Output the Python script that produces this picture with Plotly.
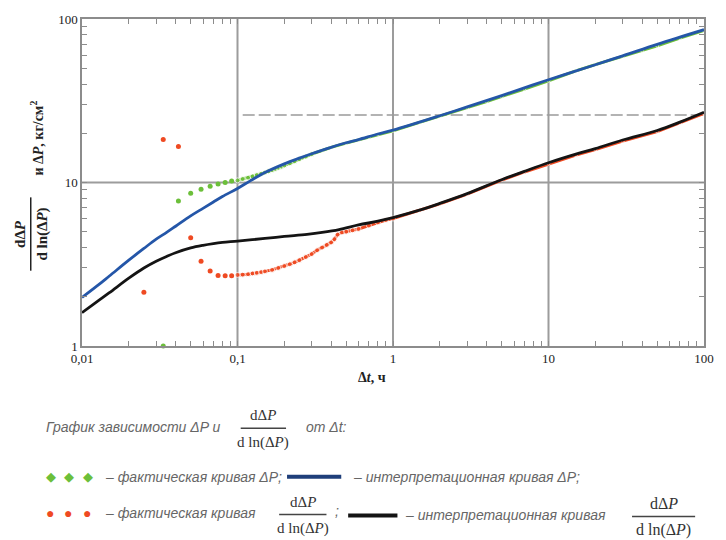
import math
import plotly.graph_objects as go

# ---- data -------------------------------------------------------------
# actual ΔP (green dots)
green_t = [0.0333, 0.0417, 0.05, 0.0583, 0.0667, 0.075, 0.0833, 0.0917,
           0.1, 0.108, 0.117, 0.125, 0.133, 0.142, 0.15, 0.158, 0.167, 0.175,
           0.183, 0.192, 0.2, 0.217, 0.233, 0.25, 0.275, 0.3, 0.35, 0.4, 0.5,
           0.6, 0.7, 0.8, 1, 1.5, 2, 3, 4, 5, 7, 10, 15, 20, 30, 40, 50, 70, 100]
green_v = [1.0, 7.7, 8.6, 9.1, 9.5, 9.8, 10.0, 10.2,
           10.3, 10.5, 10.7, 10.9, 11.1, 11.3, 11.5, 11.7, 11.9, 12.1,
           12.3, 12.5, 12.7, 13.1, 13.5, 13.9, 14.4, 14.9, 15.7, 16.4, 17.4,
           18.2, 19.0, 19.7, 20.7, 23.4, 25.4, 28.7, 31.3, 33.5, 37.3, 41.9,
           48.2, 52.6, 59.0, 64.0, 68.5, 76.5, 85.0]
green_sparse = 8  # first points are isolated dots

# interpreted ΔP (blue line)
blue_t = [0.01, 0.0125, 0.015, 0.02, 0.025, 0.03, 0.035, 0.04, 0.05, 0.06,
          0.07, 0.08, 0.1, 0.12, 0.15, 0.2, 0.25, 0.3, 0.4, 0.5, 0.6, 0.8,
          1, 2, 3, 5, 10, 20, 30, 50, 100]
blue_v = [1.98, 2.33, 2.68, 3.35, 3.95, 4.5, 4.95, 5.4, 6.25, 6.95,
          7.6, 8.2, 9.2, 10.2, 11.5, 13.0, 14.1, 15.0, 16.4, 17.5, 18.3, 19.8,
          20.9, 25.6, 29.0, 34.0, 42.5, 52.5, 59.5, 70.0, 86.0]

# actual derivative (orange dots)
orange_t = [0.025, 0.0333, 0.0417, 0.05, 0.0583, 0.0667, 0.075, 0.0833, 0.0917,
            0.1, 0.108, 0.117, 0.125, 0.133, 0.142, 0.15, 0.167, 0.183, 0.2,
            0.217, 0.233, 0.25, 0.275, 0.3, 0.325, 0.35, 0.375, 0.4, 0.42,
            0.44, 0.47, 0.5, 0.55, 0.6, 0.7, 0.8, 0.9, 1, 1.5, 2, 3, 5, 7,
            10, 15, 20, 30, 50, 70, 100]
orange_v = [2.13, 18.3, 16.6, 4.6, 3.3, 2.88, 2.7, 2.69, 2.69,
            2.72, 2.73, 2.75, 2.78, 2.8, 2.83, 2.86, 2.92, 3.0, 3.08,
            3.16, 3.25, 3.35, 3.5, 3.65, 3.85, 4.0, 4.15, 4.3, 4.5,
            4.8, 4.95, 5.0, 5.1, 5.2, 5.45, 5.7, 5.9, 6.02, 6.75, 7.4, 8.5,
            10.35, 11.6, 13.0, 14.7, 15.9, 17.9, 20.5, 23.1, 26.5]
orange_sparse = 9

# interpreted derivative (black line)
black_t = [0.01, 0.0125, 0.015, 0.02, 0.025, 0.03, 0.035, 0.04, 0.05, 0.06,
           0.07, 0.08, 0.1, 0.15, 0.2, 0.28, 0.35, 0.45, 0.6, 0.8, 1, 1.5, 2,
           3, 5, 7, 10, 15, 20, 30, 50, 70, 100]
black_v = [1.6, 1.87, 2.12, 2.6, 3.0, 3.3, 3.53, 3.72, 3.98, 4.13,
           4.23, 4.3, 4.38, 4.55, 4.68, 4.82, 4.95, 5.15, 5.5, 5.8, 6.1, 6.8,
           7.45, 8.55, 10.4, 11.7, 13.2, 14.9, 16.1, 18.2, 20.8, 23.4, 26.9]

# horizontal reference level (dashed)
ref_t = [0.108, 100]
ref_v = [25.9, 25.9]

x_decades = [0.01, 0.1, 1, 10, 100]
x_labels = ["0,01", "0,1", "1", "10", "100"]
y_decades = [1, 10, 100]
y_labels = ["1", "10", "100"]
X_RANGE = [-2, 2]
Y_RANGE = [0, 2]

# ---- colours / geometry ----------------------------------------------
GREEN = "#6cbf3a"
BLUE = "#2456a8"
ORANGE = "#ef4a22"
BLACK = "#141414"
GRID = "#9c9c9c"
FRAME = "#8c8c8c"
W, H = 726, 540
L, R, T, B = 82, 713, 16, 346

def px(x):
    return (x - L) / (R - L)

def py(y):
    return (B - y) / (B - T)

def tick_set(decades, labels):
    """All 1..9 multiples inside the range; only decades carry a label."""
    vals, text = [], []
    for d, lab in zip(decades, labels):
        vals.append(d)
        text.append(lab)
        if d != decades[-1]:
            for m in range(2, 10):
                vals.append(m * d)
                text.append("")
    return vals, text

x_tickvals, x_ticktext = tick_set(x_decades, x_labels)
y_tickvals, y_ticktext = tick_set(y_decades, y_labels)

# markers shrink where the dots run underneath the fitted curves
green_sizes = [5 if t <= 0.3 else 3 for t in green_t[green_sparse:]]
orange_sizes = [5 if t <= 1 else 3 for t in orange_t[orange_sparse:]]

fig = go.Figure()

fig.add_trace(go.Scatter(x=ref_t, y=ref_v, mode="lines",
                         line=dict(color="#9a9a9a", width=1.5, dash="12px,4px")))
fig.add_trace(go.Scatter(x=green_t[:green_sparse], y=green_v[:green_sparse],
                         mode="markers", cliponaxis=False,
                         marker=dict(color=GREEN, size=5)))
fig.add_trace(go.Scatter(x=green_t[green_sparse:], y=green_v[green_sparse:],
                         mode="lines+markers",
                         line=dict(color=GREEN, width=3),
                         marker=dict(color=GREEN, size=green_sizes)))
fig.add_trace(go.Scatter(x=blue_t, y=blue_v, mode="lines", line_shape="spline",
                         line=dict(color=BLUE, width=2.8)))
fig.add_trace(go.Scatter(x=orange_t[:orange_sparse], y=orange_v[:orange_sparse],
                         mode="markers", marker=dict(color=ORANGE, size=5)))
fig.add_trace(go.Scatter(x=orange_t[orange_sparse:], y=orange_v[orange_sparse:],
                         mode="lines+markers",
                         line=dict(color=ORANGE, width=3),
                         marker=dict(color=ORANGE, size=orange_sizes)))
fig.add_trace(go.Scatter(x=black_t, y=black_v, mode="lines", line_shape="spline",
                         line=dict(color=BLACK, width=2.8)))

axis_common = dict(
    type="log", showline=True, linecolor=FRAME, linewidth=1.5,
    mirror="allticks", ticks="inside", ticklen=5, tickcolor=FRAME,
    tickwidth=1, showgrid=False, zeroline=False, tickmode="array",
    tickfont=dict(family="Liberation Serif, serif", size=13, color="#222"),
)

fig.update_layout(
    width=W, height=H,
    margin=dict(l=L, r=W - R, t=T, b=H - B),
    paper_bgcolor="white", plot_bgcolor="white",
    showlegend=False,
    xaxis=dict(axis_common, range=X_RANGE, tickvals=x_tickvals,
               ticktext=x_ticktext),
    yaxis=dict(axis_common, range=Y_RANGE, tickvals=y_tickvals,
               ticktext=y_ticktext),
)

SERIF = "Liberation Serif, serif"
SANS = "Liberation Sans, Arial, sans-serif"
ann = []
shapes = []

# decade grid lines
for d in x_decades[1:-1]:
    xp = (math.log10(d) - X_RANGE[0]) / (X_RANGE[1] - X_RANGE[0])
    shapes.append(dict(type="line", xref="paper", yref="paper", layer="below",
                       x0=xp, x1=xp, y0=0, y1=1,
                       line=dict(color=GRID, width=2)))
for d in y_decades[1:-1]:
    yp = (math.log10(d) - Y_RANGE[0]) / (Y_RANGE[1] - Y_RANGE[0])
    shapes.append(dict(type="line", xref="paper", yref="paper", layer="below",
                       x0=0, x1=1, y0=yp, y1=yp,
                       line=dict(color=GRID, width=2)))

def text(x, y, s, size=14, family=SANS, color="#666", anchor="left",
         angle=0, italic=False):
    ann.append(dict(x=px(x), y=py(y), xref="paper", yref="paper", text=s,
                    showarrow=False, xanchor=anchor, yanchor="middle",
                    textangle=angle,
                    font=dict(family=family, size=size, color=color,
                              style="italic" if italic else "normal")))

def seg(x0, y0, x1, y1, color="#333", width=1.5):
    shapes.append(dict(type="line", xref="paper", yref="paper", layer="above",
                       x0=px(x0), x1=px(x1), y0=py(y0), y1=py(y1),
                       line=dict(color=color, width=width)))

def frac(cx, cy, half_w, size=15, gap=13):
    text(cx, cy - gap, "dΔ<i>P</i>", size=size, family=SERIF, color="#333",
         anchor="center")
    seg(cx - half_w, cy, cx + half_w, cy, color="#444", width=1.5)
    text(cx, cy + gap + 1, "d ln(Δ<i>P</i>)", size=size, family=SERIF,
         color="#333", anchor="center")

# y-axis title (rotated fraction)
text(19, 233, "<b>dΔ<i>P</i></b>", size=15, family=SERIF, color="#222",
     anchor="center", angle=-90)
seg(30, 196, 30, 270, color="#222", width=1.5)
text(41, 233, "<b>d ln(Δ<i>P</i>)</b>", size=15, family=SERIF, color="#222",
     anchor="center", angle=-90)
text(36, 136, "<b>и Δ<i>P</i>, кг/см<sup>2</sup></b>", size=14, family=SERIF,
     color="#222", anchor="center", angle=-90)

# x-axis title
text(376, 378, "<b>Δ<i>t</i>, ч</b>", size=14, family=SERIF, color="#222",
     anchor="center")

# legend block
text(43, 428, "График зависимости ΔP и", italic=True)
frac(266, 429, 23)
text(307, 428, "от Δt:", italic=True)

for xx in (51, 69, 88):
    text(xx, 478, "◆", size=13, color=GREEN, anchor="center")
text(103, 478, "– фактическая кривая ΔP;", italic=True)
seg(290, 478, 345, 478, color="#1f3f7a", width=4)
text(355, 478, "– интерпретационная кривая ΔP;", italic=True)

for xx in (50, 68, 87):
    text(xx, 515, "●", size=14, color=ORANGE, anchor="center")
text(103, 515, "– фактическая кривая", italic=True)
frac(306, 516, 24)
text(337, 513, ";", italic=True)
seg(352, 517, 402, 517, color=BLACK, width=4)
text(408, 517, "– интерпретационная кривая", italic=True)
frac(672, 518, 32, size=16)

fig.update_layout(annotations=ann, shapes=shapes)
fig.write_html("out.html")
